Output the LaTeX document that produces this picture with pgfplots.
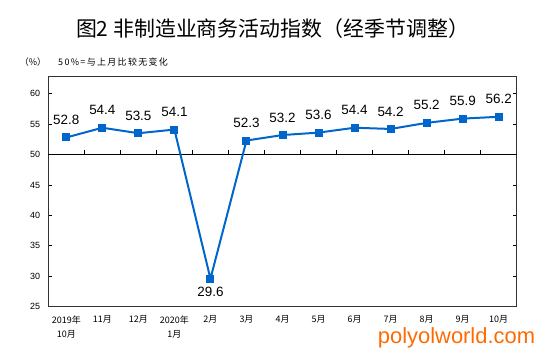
\documentclass[border=0pt]{standalone}
\usepackage{pgfplots}
\pgfplotsset{compat=1.18}
\usepackage{fontspec}
\setmainfont{Liberation Sans}
\newfontfamily\cjk{Noto Sans CJK SC}
\newfontfamily\cjkwide[LetterSpace=15]{Noto Sans CJK SC}
\definecolor{lineblue}{HTML}{0066CC}
\definecolor{wm}{HTML}{FF6A00}
\begin{document}
\begin{tikzpicture}[x=1bp,y=1bp]
\useasboundingbox (0,0) rectangle (547,358);
\node[font=\cjk\fontsize{21}{24}\selectfont] at (272.5,329.5) {图2 非制造业商务活动指数（经季节调整）};
\node[font=\cjk\fontsize{9}{10}\selectfont] at (33,296.3) {（\%）};
\node[font=\cjkwide\fontsize{9}{10}\selectfont, anchor=west, inner sep=0pt] at (58,296.3) {50\%=与上月比较无变化};
\node[font=\fontsize{22}{24}\selectfont, text=wm, anchor=base] at (456.5,15) {polyolworld.com};
\begin{axis}[
  at={(48.3bp,51.3bp)}, anchor=south west, scale only axis,
  width=468.4bp, height=230.7bp,
  xmin=-0.5, xmax=12.5, ymin=25, ymax=62.9,
  /pgf/number format/assume math mode=true,
  axis line style={draw=black!80, line width=0.8bp},
  ytick={25,30,...,60}, tick align=inside, major tick length=3.5bp,
  tick style={black, line width=0.7bp},
  yticklabel style={font=\fontsize{9}{10}\selectfont, anchor=east, inner sep=0pt, xshift=-8bp},
  xtick={0,...,12},
  xticklabels={2019年\\10月,11月,12月,2020年\\1月,2月,3月,4月,5月,6月,7月,8月,9月,10月},
  x tick style={draw=none},
  xticklabel style={font=\cjk\fontsize{9}{14}\selectfont, align=center, anchor=north, inner sep=0pt, yshift=-9bp},
  clip=false,
]
\draw[black, line width=0.9bp] (axis cs:-0.5,50) -- (axis cs:12.5,50);
\pgfplotsinvokeforeach{0.5,1.5,...,11.5}{\draw[black, line width=0.7bp] (axis cs:#1,50) -- ++(0pt,4.5bp);}
\addplot[lineblue, line width=2bp, mark=square*, mark size=3bp, mark options={solid}] coordinates {
(0,52.8) (1,54.4) (2,53.5) (3,54.1) (4,29.6) (5,52.3) (6,53.2) (7,53.6) (8,54.4) (9,54.2) (10,55.2) (11,55.9) (12,56.2)};
\addplot[draw=none, mark=none, point meta=y,
  nodes near coords={\pgfmathprintnumber[fixed,fixed zerofill,precision=1,assume math mode=true]{\pgfplotspointmeta}},
  every node near coord/.style={font=\fontsize{13.5}{15}\selectfont, anchor=center, yshift=17.5bp, text=black}] coordinates {
(0,52.8) (1,54.4) (2,53.5) (3,54.1) (5,52.3) (6,53.2) (7,53.6) (8,54.4) (9,54.2) (10,55.2) (11,55.9) (12,56.2)};
\addplot[draw=none, mark=none, point meta=y,
  nodes near coords={\pgfmathprintnumber[fixed,fixed zerofill,precision=1,assume math mode=true]{\pgfplotspointmeta}},
  every node near coord/.style={font=\fontsize{13.5}{15}\selectfont, anchor=center, yshift=-13.5bp, text=black}] coordinates {
(4,29.6)};
\end{axis}
\end{tikzpicture}
\end{document}
